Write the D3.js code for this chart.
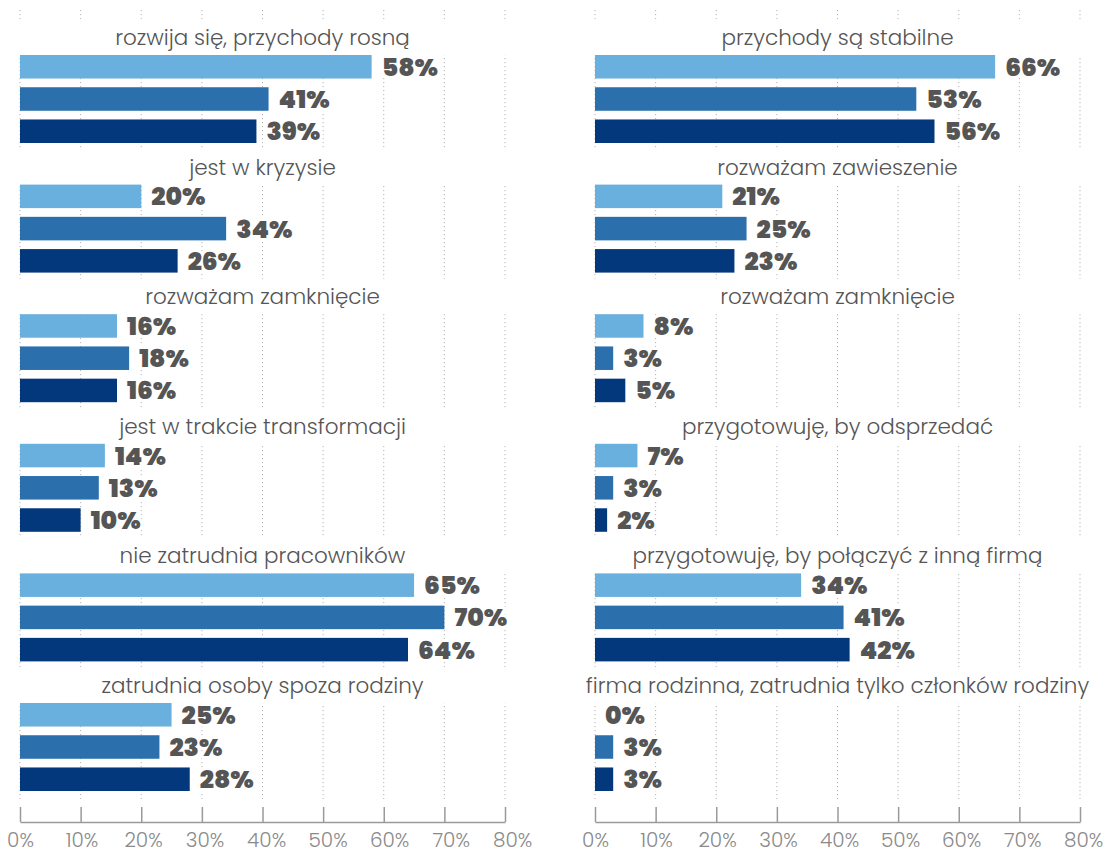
<!DOCTYPE html>
<html>
<head>
<meta charset="utf-8">
<script src="https://cdn.jsdelivr.net/npm/d3@7/dist/d3.min.js"></script>
<style>
  html, body { margin: 0; padding: 0; background: #fff; }
  svg { display: block; }
</style>
</head>
<body>
<svg id="chart" width="1109" height="854"></svg>
<script>
// Survey answers, three respondent groups per question (values in %)
const leftCategories = [
  "rozwija się, przychody rosną",
  "jest w kryzysie",
  "rozważam zamknięcie",
  "jest w trakcie transformacji",
  "nie zatrudnia pracowników",
  "zatrudnia osoby spoza rodziny"
];
const leftValues = [
  [58, 41, 39],
  [20, 34, 26],
  [16, 18, 16],
  [14, 13, 10],
  [65, 70, 64],
  [25, 23, 28]
];

const rightCategories = [
  "przychody są stabilne",
  "rozważam zawieszenie",
  "rozważam zamknięcie",
  "przygotowuję, by odsprzedać",
  "przygotowuję, by połączyć z inną firmą",
  "firma rodzinna, zatrudnia tylko członków rodziny"
];
const rightValues = [
  [66, 53, 56],
  [21, 25, 23],
  [8, 3, 5],
  [7, 3, 2],
  [34, 41, 42],
  [0, 3, 3]
];

const seriesIndex = [0, 1, 2];
const seriesColors = ["#6ab0de", "#2b70ad", "#04387c"];
const tickValues = [0, 10, 20, 30, 40, 50, 60, 70, 80];

const svg = d3.select("#chart");

const FONT = "Poppins, Lato, 'Open Sans', sans-serif";
const textColor = "#555555";

// vertical layout shared by both panels
const groupTop = 19.4, groupStep = 129.6, titleBand = 35.6, barsBand = 88;
const groupScale = d3.scaleBand()
  .domain(d3.range(6))
  .range([groupTop, groupTop + 6 * groupStep])
  .padding(0);
const barScale = d3.scaleBand()
  .domain(seriesIndex)
  .range([0, barsBand])
  .paddingInner(0.27)
  .paddingOuter(0);

const gridTop = 10, gridBottom = 799, axisY = 822;

function drawPanel(x0, x1, categories, values, labelSpread) {
  const x = d3.scaleLinear().domain([0, 80]).range([x0, x1]);
  const g = svg.append("g");

  // dotted vertical gridlines
  g.append("g").selectAll("line")
    .data(tickValues)
    .join("line")
    .attr("x1", d => x(d)).attr("x2", d => x(d))
    .attr("y1", gridTop).attr("y2", gridBottom)
    .attr("stroke", "#b5b5b5")
    .attr("stroke-width", 1)
    .attr("stroke-dasharray", "1.2,2.8");

  const groups = g.selectAll("g.group")
    .data(categories.map((c, i) => ({ c, i, v: values[i] })))
    .join("g")
    .attr("class", "group")
    .attr("transform", d => `translate(0,${groupScale(d.i)})`);

  // white strip behind each question title
  groups.append("rect")
    .attr("x", x0 - 12).attr("width", x1 - x0 + 24)
    .attr("y", 0).attr("height", titleBand)
    .attr("fill", "#fff");

  groups.append("text")
    .attr("x", (x0 + x1) / 2)
    .attr("y", 25.5)
    .attr("text-anchor", "middle")
    .attr("font-family", FONT)
    .attr("font-weight", 300)
    .attr("font-size", 21.5)
    .attr("fill", textColor)
    .text(d => d.c);

  const bars = groups.append("g")
    .attr("transform", `translate(0,${titleBand})`);

  bars.selectAll("rect")
    .data(d => d.v.map((v, s) => ({ v, s })))
    .join("rect")
    .attr("x", x(0))
    .attr("y", d => barScale(d.s))
    .attr("width", d => x(d.v) - x(0))
    .attr("height", barScale.bandwidth())
    .attr("fill", d => seriesColors[d.s]);

  bars.selectAll("text")
    .data(d => d.v.map((v, s) => ({ v, s })))
    .join("text")
    .attr("x", d => x(d.v) + 10)
    .attr("y", d => barScale(d.s) + barScale.bandwidth() / 2 + 0.5)
    .attr("dominant-baseline", "central")
    .attr("font-family", FONT)
    .attr("font-weight", 900)
    .attr("font-size", 25)
    .attr("fill", textColor)
    .attr("stroke", "#fff")
    .attr("stroke-width", 6)
    .attr("stroke-linejoin", "round")
    .attr("paint-order", "stroke")
    .text(d => d.v + "%");

  // bottom axis with ticks pointing up
  const axis = d3.axisBottom(x)
    .tickValues(tickValues)
    .tickFormat(d => d + "%")
    .tickSizeInner(-15)
    .tickSizeOuter(0)
    .tickPadding(11);

  const ax = g.append("g")
    .attr("transform", `translate(0,${axisY})`)
    .call(axis);
  ax.select(".domain").attr("stroke", "#9a9a9a").attr("stroke-width", 1.5);
  ax.selectAll(".tick line").attr("stroke", "#9a9a9a").attr("stroke-width", 1.5);
  ax.selectAll(".tick text")
    .attr("dx", d => d * labelSpread)
    .attr("font-family", FONT)
    .attr("font-weight", 300)
    .attr("font-size", 20)
    .attr("fill", "#8a8a8a");
}

drawPanel(20, 505, leftCategories, leftValues, 0.09);
drawPanel(595, 1080, rightCategories, rightValues, 0.04);
</script>
</body>
</html>
